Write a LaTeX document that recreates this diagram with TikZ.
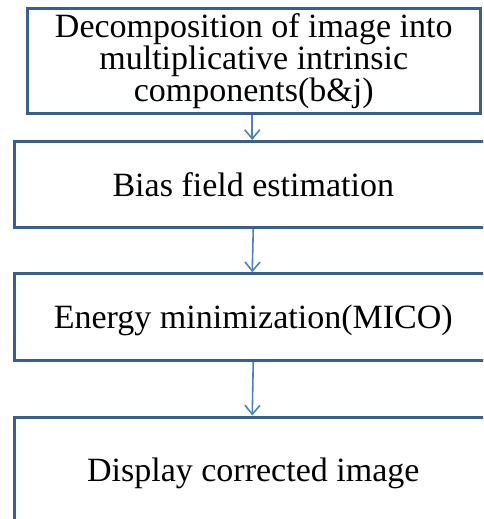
\documentclass[tikz,border=0pt]{standalone}
\usepackage{fontspec}
\setmainfont{Liberation Serif}
\usetikzlibrary{arrows.meta}
\definecolor{boxline}{HTML}{3A5F8D}
\definecolor{arrowblue}{HTML}{4F81BD}
\begin{document}
\begin{tikzpicture}[x=1pt,y=-1pt,
  flowbox/.style={draw=boxline, line width=3pt, fill=white, inner sep=0pt,
    align=center, font=\fontsize{34}{32}\selectfont},
  flowarrow/.style={draw=arrowblue, line width=1.6pt,
    -{Straight Barb[length=9pt,width=15pt,line width=1.6pt]}}]
  \useasboundingbox (0,0) rectangle (483,519);
  \begin{scope}
  \clip (0,0) rectangle (483,519);
  \node[flowbox, minimum width=452.5pt, minimum height=105pt] (decomp) at (253.75,61)
    {Decomposition of image into\\multiplicative intrinsic\\components(b\&j)};
  \node[flowbox, minimum width=477.5pt, minimum height=86pt, text height=23pt, text depth=0pt] (bias) at (253.25,184.5)
    {Bias field estimation};
  \node[flowbox, minimum width=477.5pt, minimum height=86.5pt, text height=23pt, text depth=0pt] (energy) at (253.25,317)
    {Energy minimization(MICO)};
  \node[flowbox, minimum width=477.5pt, minimum height=105pt, text height=23pt, text depth=0pt] (display) at (253.25,469.5)
    {Display corrected image};
  \end{scope}
  \draw[flowarrow] ([xshift=-1.5pt]decomp.south) -- ([xshift=-1pt]bias.north);
  \draw[flowarrow] ([xshift=0pt]bias.south) -- ([xshift=-1pt]energy.north);
  \draw[flowarrow] ([xshift=0pt]energy.south) -- ([xshift=-1pt]display.north);
\end{tikzpicture}
\end{document}
